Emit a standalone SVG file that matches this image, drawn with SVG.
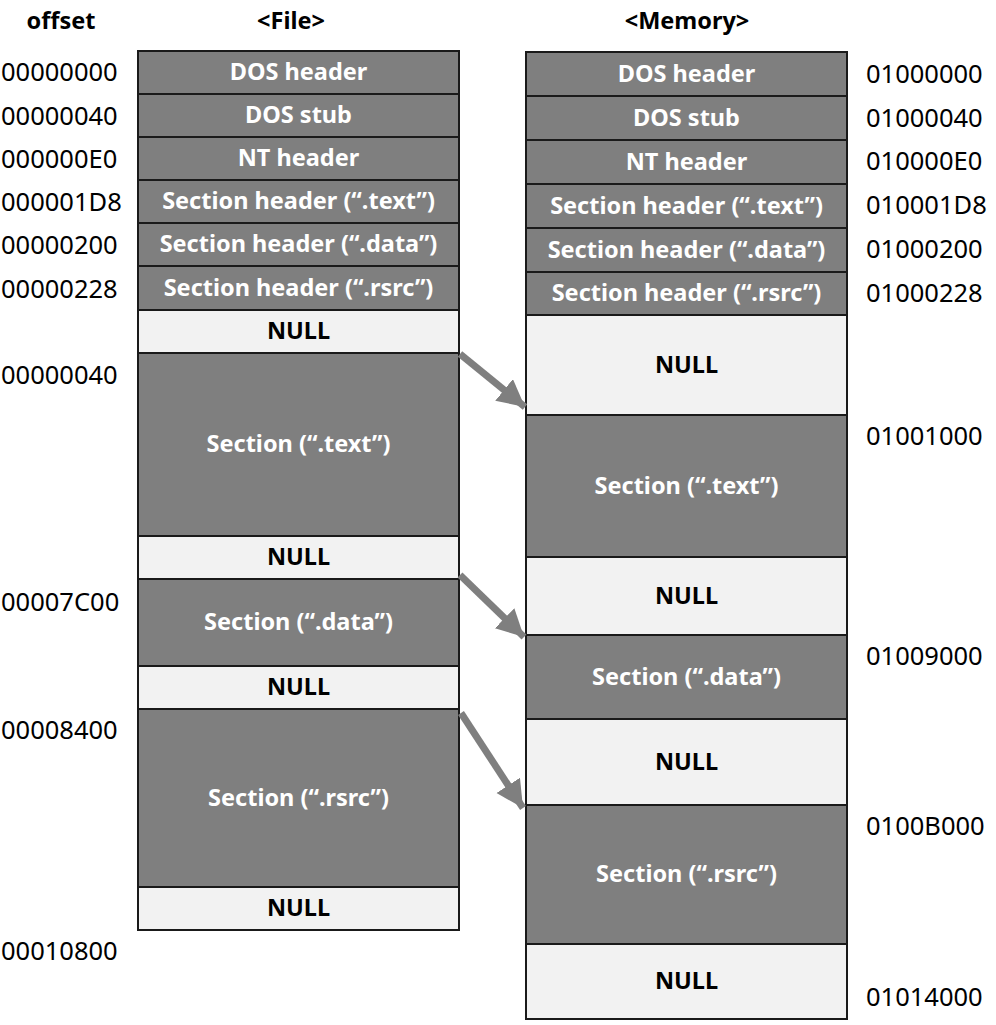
<svg xmlns="http://www.w3.org/2000/svg" width="996" height="1025" viewBox="0 0 996 1025">
<style>
.d{fill:#7f7f7f;stroke:#1a1a1a;stroke-width:2}
.l{fill:#f2f2f2;stroke:#1a1a1a;stroke-width:2}
.t{font-family:"Noto Sans",sans-serif;font-weight:bold;font-size:23.5px;text-anchor:middle;dominant-baseline:central}
.w{fill:#ffffff}
.k{fill:#000000}
.o{font-family:"Noto Sans",sans-serif;font-size:25.5px;fill:#000;dominant-baseline:central}
.h{font-family:"Noto Sans",sans-serif;font-weight:bold;font-size:23.5px;fill:#000;text-anchor:middle;dominant-baseline:central}
.a{stroke:#7f7f7f;stroke-width:7;fill:none}
</style>
<defs>
<marker id="ah" markerUnits="userSpaceOnUse" markerWidth="32" markerHeight="32" refX="27" refY="14" orient="auto">
<path d="M0,0 L27,14 L0,28 Z" fill="#7f7f7f"/>
</marker>
</defs>
<rect width="996" height="1025" fill="#fff"/>
<g id="headers">
<text class="h" x="61" y="20">offset</text>
<text class="h" x="291" y="20">&lt;File&gt;</text>
<text class="h" x="687" y="20">&lt;Memory&gt;</text>
</g>
<g id="file">
<g id="f-dos-header"><rect class="d" x="138" y="51" width="321" height="43"/><text class="t w" x="298.5" y="71">DOS header</text></g>
<g id="f-dos-stub"><rect class="d" x="138" y="94" width="321" height="43"/><text class="t w" x="298.5" y="114">DOS stub</text></g>
<g id="f-nt-header"><rect class="d" x="138" y="137" width="321" height="43"/><text class="t w" x="298.5" y="157">NT header</text></g>
<g id="f-sh-text"><rect class="d" x="138" y="180" width="321" height="43"/><text class="t w" x="298.5" y="200">Section header (“.text”)</text></g>
<g id="f-sh-data"><rect class="d" x="138" y="223" width="321" height="43"/><text class="t w" x="298.5" y="243">Section header (“.data”)</text></g>
<g id="f-sh-rsrc"><rect class="d" x="138" y="266" width="321" height="44"/><text class="t w" x="298.5" y="286.5">Section header (“.rsrc”)</text></g>
<g id="f-null1"><rect class="l" x="138" y="310" width="321" height="43"/><text class="t k" x="298.5" y="330">NULL</text></g>
<g id="f-sec-text"><rect class="d" x="138" y="353" width="321" height="183"/><text class="t w" x="298.5" y="443">Section (“.text”)</text></g>
<g id="f-null2"><rect class="l" x="138" y="536" width="321" height="43"/><text class="t k" x="298.5" y="556">NULL</text></g>
<g id="f-sec-data"><rect class="d" x="138" y="579" width="321" height="87"/><text class="t w" x="298.5" y="621">Section (“.data”)</text></g>
<g id="f-null3"><rect class="l" x="138" y="666" width="321" height="43"/><text class="t k" x="298.5" y="686">NULL</text></g>
<g id="f-sec-rsrc"><rect class="d" x="138" y="709" width="321" height="178"/><text class="t w" x="298.5" y="796.5">Section (“.rsrc”)</text></g>
<g id="f-null4"><rect class="l" x="138" y="887" width="321" height="43"/><text class="t k" x="298.5" y="907">NULL</text></g>
</g>
<g id="memory">
<g id="m-dos-header"><rect class="d" x="526" y="52" width="321" height="44"/><text class="t w" x="686.5" y="72.5">DOS header</text></g>
<g id="m-dos-stub"><rect class="d" x="526" y="96" width="321" height="44"/><text class="t w" x="686.5" y="116.5">DOS stub</text></g>
<g id="m-nt-header"><rect class="d" x="526" y="140" width="321" height="44"/><text class="t w" x="686.5" y="160.5">NT header</text></g>
<g id="m-sh-text"><rect class="d" x="526" y="184" width="321" height="44"/><text class="t w" x="686.5" y="204.5">Section header (“.text”)</text></g>
<g id="m-sh-data"><rect class="d" x="526" y="228" width="321" height="44"/><text class="t w" x="686.5" y="248.5">Section header (“.data”)</text></g>
<g id="m-sh-rsrc"><rect class="d" x="526" y="272" width="321" height="43"/><text class="t w" x="686.5" y="292">Section header (“.rsrc”)</text></g>
<g id="m-null1"><rect class="l" x="526" y="315" width="321" height="100"/><text class="t k" x="686.5" y="363.5">NULL</text></g>
<g id="m-sec-text"><rect class="d" x="526" y="415" width="321" height="142"/><text class="t w" x="686.5" y="484.5">Section (“.text”)</text></g>
<g id="m-null2"><rect class="l" x="526" y="557" width="321" height="78"/><text class="t k" x="686.5" y="594.5">NULL</text></g>
<g id="m-sec-data"><rect class="d" x="526" y="635" width="321" height="84"/><text class="t w" x="686.5" y="675.5">Section (“.data”)</text></g>
<g id="m-null3"><rect class="l" x="526" y="719" width="321" height="86"/><text class="t k" x="686.5" y="760.5">NULL</text></g>
<g id="m-sec-rsrc"><rect class="d" x="526" y="805" width="321" height="139"/><text class="t w" x="686.5" y="873">Section (“.rsrc”)</text></g>
<g id="m-null4"><rect class="l" x="526" y="944" width="321" height="75"/><text class="t k" x="686.5" y="980">NULL</text></g>
</g>
<g id="file-offsets">
<text class="o" x="1" y="70.5">00000000</text>
<text class="o" x="1" y="114.5">00000040</text>
<text class="o" x="1" y="157.5">000000E0</text>
<text class="o" x="1" y="200.5">000001D8</text>
<text class="o" x="1" y="243.5">00000200</text>
<text class="o" x="1" y="287.5">00000228</text>
<text class="o" x="1" y="373.5">00000040</text>
<text class="o" x="1" y="600.5">00007C00</text>
<text class="o" x="1" y="728.5">00008400</text>
<text class="o" x="1" y="949.5">00010800</text>
</g>
<g id="memory-addresses">
<text class="o" x="866" y="72.5">01000000</text>
<text class="o" x="866" y="116.5">01000040</text>
<text class="o" x="866" y="159.5">010000E0</text>
<text class="o" x="866" y="203.5">010001D8</text>
<text class="o" x="866" y="247.5">01000200</text>
<text class="o" x="866" y="291.5">01000228</text>
<text class="o" x="866" y="434.5">01001000</text>
<text class="o" x="866" y="654.5">01009000</text>
<text class="o" x="866" y="824.5">0100B000</text>
<text class="o" x="866" y="995.5">01014000</text>
</g>
<g id="connectors">
<line class="a" x1="460" y1="354" x2="525" y2="407" marker-end="url(#ah)"/>
<line class="a" x1="460" y1="575" x2="524" y2="637" marker-end="url(#ah)"/>
<line class="a" x1="461" y1="713" x2="523" y2="808" marker-end="url(#ah)"/>
</g>
</svg>
